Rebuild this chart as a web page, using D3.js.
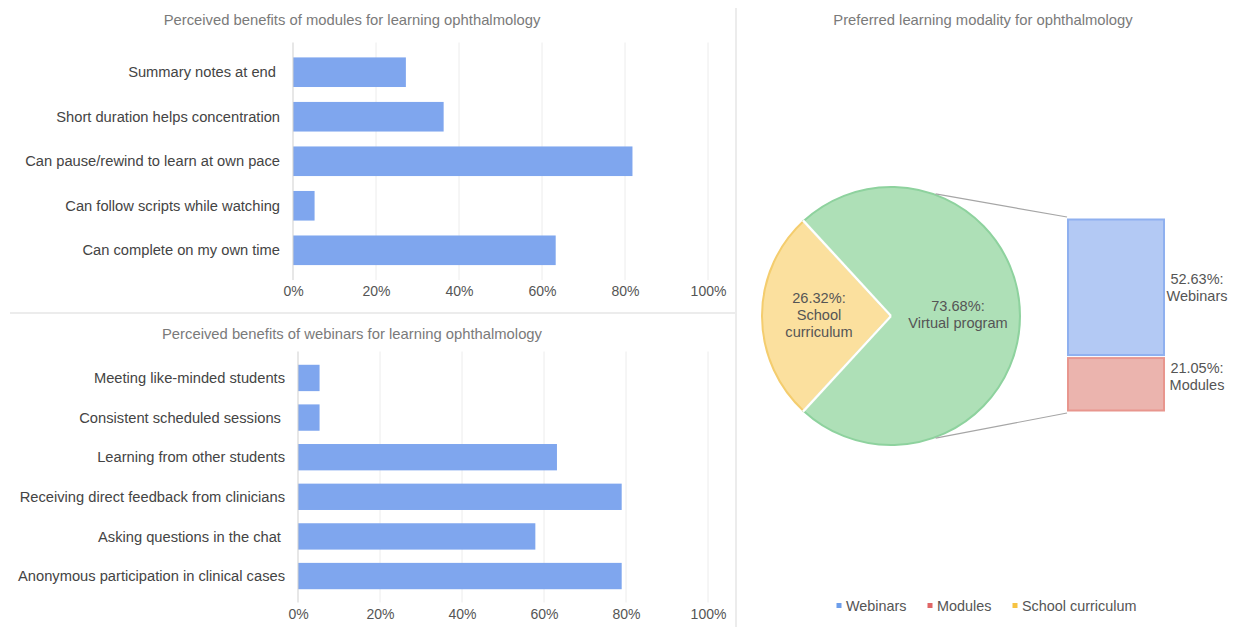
<!DOCTYPE html>
<html>
<head>
<meta charset="utf-8">
<script src="https://cdn.jsdelivr.net/npm/d3@7"></script>
<style>
  body { margin: 0; background: #fff; }
  svg { font-family: "Liberation Sans", Arial, sans-serif; }
</style>
</head>
<body>
<div id="chart"></div>
<script>
// module benefits (percent of respondents)
const moduleLabels = ["Summary notes at end ", "Short duration helps concentration", "Can pause/rewind to learn at own pace", "Can follow scripts while watching", "Can complete on my own time"];
const moduleValues = [27.2, 36.3, 81.8, 5.2, 63.3];

// webinar benefits
const webinarLabels = ["Meeting like-minded students", "Consistent scheduled sessions ", "Learning from other students", "Receiving direct feedback from clinicians", "Asking questions in the chat ", "Anonymous participation in clinical cases"];
const webinarValues = [5.26, 5.26, 63.16, 78.95, 57.89, 78.95];

const xTicks = [0, 20, 40, 60, 80, 100];

// preferred modality
const pieNames = ["School curriculum", "Virtual program"];
const pieValues = [26.32, 73.68];
const virtualNames = ["Webinars", "Modules"];
const virtualValues = [52.63, 21.05];
const legendNames = ["Webinars", "Modules", "School curriculum"];

const width = 1234, height = 627;
const svg = d3.select("#chart").append("svg")
    .attr("width", width)
    .attr("height", height);

// panel separators
svg.append("line").attr("x1", 10).attr("x2", 735).attr("y1", 313).attr("y2", 313)
    .attr("stroke", "#e6e6e6").attr("stroke-width", 1.5);
svg.append("line").attr("x1", 736).attr("x2", 736).attr("y1", 8).attr("y2", 627)
    .attr("stroke", "#e6e6e6").attr("stroke-width", 1.5);

function barChart(opts) {
    const g = svg.append("g");
    const x = d3.scaleLinear().domain([0, 100]).range([opts.x0, opts.x1]);
    const y = d3.scaleBand().domain(opts.labels).range([opts.y0, opts.y1]).padding(0.335);

    g.append("text")
        .attr("x", 352).attr("y", opts.titleY)
        .attr("text-anchor", "middle")
        .attr("font-size", 14.8)
        .attr("fill", "#7a7a7a")
        .text(opts.title);

    g.selectAll(".grid").data(xTicks.slice(1)).join("line")
        .attr("x1", d => x(d)).attr("x2", d => x(d))
        .attr("y1", opts.y0).attr("y2", opts.y1)
        .attr("stroke", "#ececec").attr("stroke-width", 1);

    g.selectAll(".bar").data(opts.values).join("rect")
        .attr("x", x(0))
        .attr("y", (d, i) => y(opts.labels[i]))
        .attr("width", d => x(d) - x(0))
        .attr("height", y.bandwidth())
        .attr("fill", "#7fa6ee");

    g.append("line")
        .attr("x1", x(0)).attr("x2", x(0))
        .attr("y1", opts.y0).attr("y2", opts.y1)
        .attr("stroke", "#cfcfcf");

    g.selectAll(".lab").data(opts.labels).join("text")
        .attr("x", x(0) - 13)
        .attr("y", d => y(d) + y.bandwidth() / 2)
        .attr("dy", "0.35em")
        .attr("text-anchor", "end")
        .attr("font-size", 14.7)
        .attr("fill", "#444")
        .attr("xml:space", "preserve")
        .text(d => d);

    const axis = d3.axisBottom(x).tickValues(xTicks).tickFormat(d => d + "%").tickSize(0).tickPadding(0);
    const ag = g.append("g").attr("transform", `translate(0,${opts.tickY})`).call(axis);
    ag.select(".domain").remove();
    ag.selectAll("text")
        .attr("font-size", 14)
        .attr("font-family", "Liberation Sans, Arial, sans-serif")
        .attr("fill", "#555")
        .attr("dy", "0.35em");
}

barChart({
    title: "Perceived benefits of modules for learning ophthalmology",
    titleY: 25, labels: moduleLabels, values: moduleValues,
    x0: 293, x1: 708, y0: 42.5, y1: 280, tickY: 291
});

barChart({
    title: "Perceived benefits of webinars for learning ophthalmology",
    titleY: 338.5, labels: webinarLabels, values: webinarValues,
    x0: 298, x1: 708, y0: 351.5, y1: 602.5, tickY: 614
});

// right panel
svg.append("text")
    .attr("x", 983).attr("y", 25)
    .attr("text-anchor", "middle")
    .attr("font-size", 14.8)
    .attr("fill", "#7a7a7a")
    .text("Preferred learning modality for ophthalmology");

const cx = 891, cy = 316, r = 130;
const pieColors = { "School curriculum": ["#fbe09e", "#f4cd6e"], "Virtual program": ["#aee0b7", "#8ed29e"] };
const half = pieValues[0] / 100 * Math.PI; // yellow slice centred on the left
const pie = d3.pie().sort(null).value(d => d)
    .startAngle(-Math.PI / 2 - half)
    .endAngle(3 * Math.PI / 2 - half);
const arcs = pie(pieValues);
const arc = d3.arc().innerRadius(0).outerRadius(r - 1);
const pg = svg.append("g").attr("transform", `translate(${cx},${cy})`);

pg.selectAll("path.fill").data(arcs).join("path")
    .attr("d", arc)
    .attr("fill", (d, i) => pieColors[pieNames[i]][0])
    .attr("stroke", (d, i) => pieColors[pieNames[i]][1])
    .attr("stroke-width", 2);
// white separators between slices
pg.selectAll("line.sep").data(arcs).join("line")
    .attr("x1", 0).attr("y1", 0)
    .attr("x2", d => Math.sin(d.startAngle) * r)
    .attr("y2", d => -Math.cos(d.startAngle) * r)
    .attr("stroke", "#fff").attr("stroke-width", 2.5);

const pieText = [["26.32%:", "School", "curriculum"], ["73.68%:", "Virtual program"]];
const labelPos = [[-72, -18], [67, -10]];
pieText.forEach((lines, i) => {
    const t = pg.append("text")
        .attr("text-anchor", "middle")
        .attr("font-size", 14.6)
        .attr("fill", "#555");
    lines.forEach((s, j) => {
        t.append("tspan").attr("x", labelPos[i][0]).attr("y", labelPos[i][1] + j * 17 + 5).text(s);
    });
});

// stacked bar for the virtual program split
const bx0 = 1067, bx1 = 1165;
const yStack = d3.scaleLinear().domain([0, pieValues[1]]).range([412, 218]);
const stackColors = { "Webinars": ["#b3c9f4", "#8fb0ef"], "Modules": ["#ebb4ae", "#e8968e"] };
const stackLabelShift = [0, -8];
let acc = 0;
const segs = virtualValues.map((v, i) => {
    const s = { name: virtualNames[i], v: v, top: pieValues[1] - acc, bottom: pieValues[1] - acc - v };
    acc += v;
    return s;
});
svg.selectAll("rect.seg").data(segs).join("rect")
    .attr("x", bx0 + 1)
    .attr("y", d => yStack(d.top) + 1.5)
    .attr("width", bx1 - bx0 - 2)
    .attr("height", d => yStack(d.bottom) - yStack(d.top) - 3)
    .attr("fill", d => stackColors[d.name][0])
    .attr("stroke", d => stackColors[d.name][1])
    .attr("stroke-width", 2);

svg.selectAll("text.seg").data(segs).join("text")
    .attr("text-anchor", "middle")
    .attr("font-size", 14.5)
    .attr("fill", "#555")
    .each(function (d, i) {
        const mid = (yStack(d.top) + yStack(d.bottom)) / 2 + stackLabelShift[i];
        const t = d3.select(this);
        t.append("tspan").attr("x", 1197).attr("y", mid - 3).text(d.v.toFixed(2) + "%:");
        t.append("tspan").attr("x", 1197).attr("y", mid + 14).text(d.name);
    });

// connector lines from pie to stacked bar
const conn = 0.35; // angle off vertical where the connectors leave the pie
svg.append("line")
    .attr("x1", cx + Math.sin(conn) * r).attr("y1", cy - Math.cos(conn) * r)
    .attr("x2", bx0).attr("y2", yStack(pieValues[1]) - 1)
    .attr("stroke", "#a6a6a6").attr("stroke-width", 1.2);
svg.append("line")
    .attr("x1", cx + Math.sin(conn) * r).attr("y1", cy + Math.cos(conn) * r)
    .attr("x2", bx0).attr("y2", yStack(0) + 1)
    .attr("stroke", "#a6a6a6").attr("stroke-width", 1.2);

// legend
const legendColors = ["#6d9eeb", "#e06666", "#f6c343"];
const legendX = [839, 930, 1015];
const lg = svg.append("g");
legendNames.forEach((n, i) => {
    lg.append("rect").attr("x", legendX[i] - 2.5).attr("y", 603).attr("width", 5).attr("height", 5)
        .attr("fill", legendColors[i]);
    lg.append("text").attr("x", legendX[i] + 7).attr("y", 610.5)
        .attr("font-size", 14.4).attr("fill", "#555").text(n);
});
</script>
</body>
</html>
